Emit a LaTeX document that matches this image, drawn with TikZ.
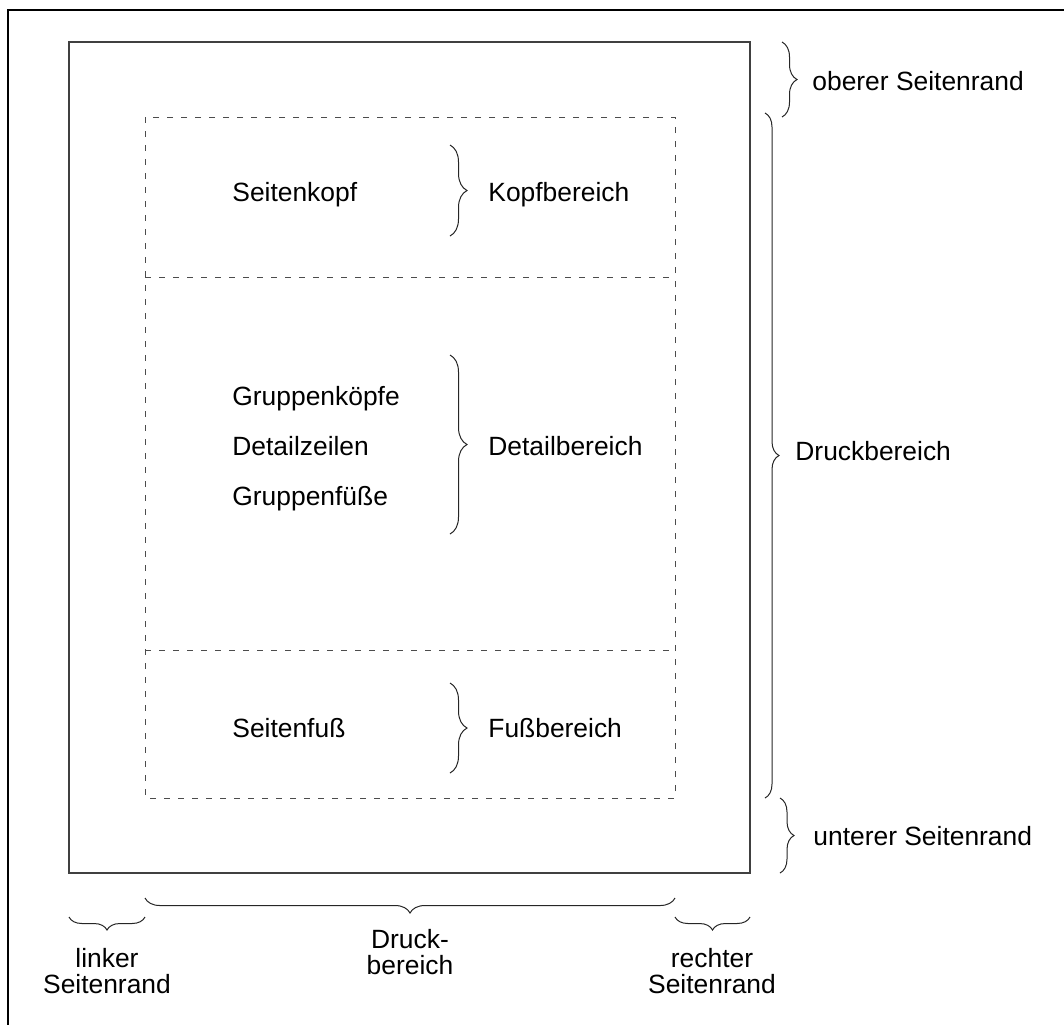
\documentclass[tikz,border=0pt]{standalone}
\usepackage{fontspec}
\setmainfont{Liberation Sans}
\usetikzlibrary{decorations.pathreplacing}
\tikzstyle{rahmen} = [draw=black, line width=1pt]
\tikzstyle{blatt} = [draw=black!75, line width=0.6pt]
\tikzstyle{bereich} = [draw=black!70, line width=0.5pt, dash pattern=on 3pt off 4pt]
\tikzstyle{beschr} = [inner sep=0pt, font=\fontsize{13.2}{13}\selectfont]
\tikzstyle{links} = [beschr, anchor=base west]
\tikzstyle{unten} = [beschr, anchor=base, align=center]
\tikzset{klammer/.style={draw=black!85, line width=0.5pt, decorate, decoration={brace, amplitude=#1}}}

\begin{document}
\begin{tikzpicture}[x=0.5pt, y=-0.5pt]
		\useasboundingbox (0,0) rectangle (1064,1025);
		\coordinate (ecke) at (8,10);
		\draw[rahmen] (1064,10) -- (ecke) -- (8,1025);
		\coordinate (blattNW) at (69,42);
		\coordinate (blattSO) at (750,873);
		\draw[blatt] (blattNW) rectangle (blattSO);
		\coordinate (druckNW) at (145,117);
		\coordinate (druckSO) at (675,798);
		\coordinate (kopfW) at (145,277);
		\coordinate (kopfO) at (675,277);
		\coordinate (fussW) at (145,650);
		\coordinate (fussO) at (675,650);
		\draw[bereich] (druckNW) rectangle (druckSO);
		\draw[bereich] (kopfW) -- (kopfO);
		\draw[bereich] (fussW) -- (fussO);

		\node[links] (seitenkopf) at (232,201) {Seitenkopf};
		\node[links] (kopfbereich) at (488,201) {Kopfbereich};
		\draw[klammer=8.5pt] (450,145) -- (450,236);

		\node[links] (gruppenkoepfe) at (232,405) {Gruppenköpfe};
		\node[links] (detailzeilen) at (232,455) {Detailzeilen};
		\node[links] (gruppenfuesse) at (232,505) {Gruppenfüße};
		\node[links] (detailbereich) at (488,455) {Detailbereich};
		\draw[klammer=8.5pt] (450,355) -- (450,534);

		\node[links] (seitenfuss) at (232,737) {Seitenfuß};
		\node[links] (fussbereich) at (488,737) {Fußbereich};
		\draw[klammer=8.5pt] (450,683) -- (450,773);

		\draw[klammer=7.5pt] (782,42) -- (782,117);
		\node[links] (oben) at (812,90) {oberer Seitenrand};
		\draw[klammer=7pt] (765,113) -- (765,798);
		\node[links] (druckrechts) at (795,460) {Druckbereich};
		\draw[klammer=7pt] (780,798) -- (780,873);
		\node[links] (unterrand) at (813,845) {unterer Seitenrand};

		\draw[klammer=6.5pt] (145,917) -- (69,917);
		\node[unten] (linker) at (107,993) {linker\\Seitenrand};
		\draw[klammer=7.5pt] (675,898) -- (145,898);
		\node[unten] (druckunten) at (410,974) {Druck-\\bereich};
		\draw[klammer=6.5pt] (750,917) -- (675,917);
		\node[unten] (rechter) at (712,993) {rechter\\Seitenrand};
\end{tikzpicture}
\end{document}
